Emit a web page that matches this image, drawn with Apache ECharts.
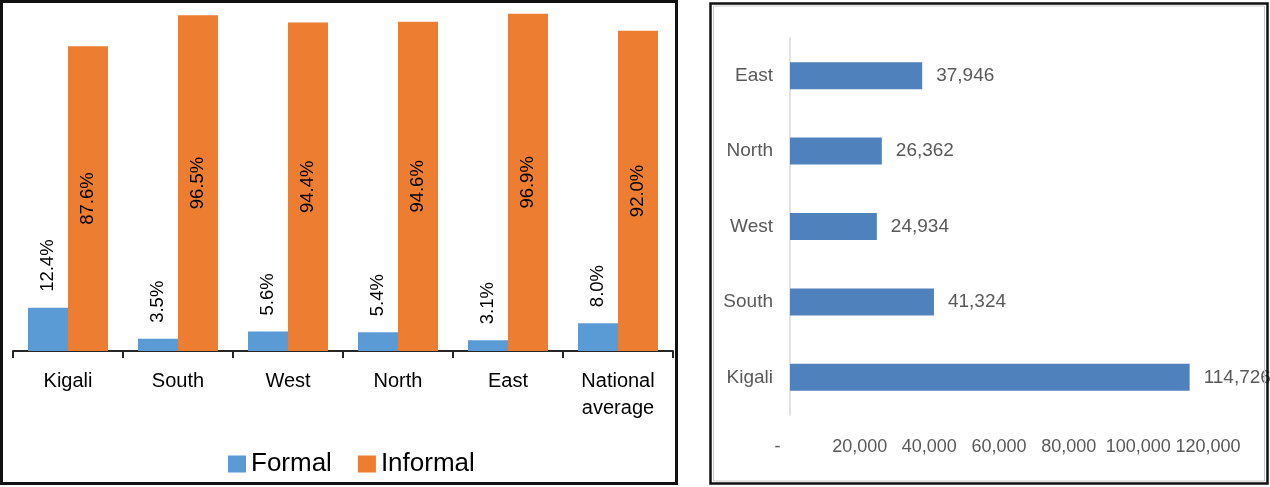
<!DOCTYPE html>
<html>
<head>
<meta charset="utf-8">
<script src="https://cdn.jsdelivr.net/npm/echarts@6/dist/echarts.min.js"></script>
<style>
html,body{margin:0;padding:0;background:#fff;}
#chart{width:1270px;height:487px;}
</style>
</head>
<body>
<div id="chart"></div>
<script>
// Left chart data
const regionCategories = ['Kigali', 'South', 'West', 'North', 'East', 'National\naverage'];
const formalShare = [12.4, 3.5, 5.6, 5.4, 3.1, 8.0];
const informalShare = [87.6, 96.5, 94.4, 94.6, 96.9, 92.0];
const seriesNames = ['Formal', 'Informal'];

// Right chart data (bottom to top)
const hhCategories = ['Kigali', 'South', 'West', 'North', 'East'];
const hhValues = [114726, 41324, 24934, 26362, 37946];
const hhAxisMax = 120000;
const hhAxisStep = 20000;

const FONT = "'Liberation Sans', Arial, sans-serif";

function fmtThousands(v) {
  return String(Math.round(v)).replace(/\B(?=(\d{3})+(?!\d))/g, ',');
}

const chart = echarts.init(document.getElementById('chart'), null, {renderer: 'canvas'});

const option = {
  backgroundColor: '#ffffff',
  animation: false,
  textStyle: {fontFamily: FONT},
  legend: {
    data: seriesNames,
    left: 223,
    top: 446,
    itemWidth: 18,
    itemHeight: 17,
    itemGap: 26,
    icon: 'rect',
    textStyle: {fontFamily: FONT, fontSize: 26, color: '#000'}
  },
  grid: [
    {left: 13, right: 597, top: 3, bottom: 136, containLabel: false},
    {left: 790, right: 62, top: 38, bottom: 72, containLabel: false}
  ],
  xAxis: [
    {
      gridIndex: 0,
      type: 'category',
      data: regionCategories,
      axisLine: {show: true, lineStyle: {color: '#262626', width: 2}},
      axisTick: {show: true, length: 7, lineStyle: {color: '#262626', width: 2}},
      axisLabel: {fontFamily: FONT, fontSize: 20, lineHeight: 27, color: '#000', margin: 17, interval: 0}
    },
    {
      gridIndex: 1,
      type: 'value',
      min: 0,
      max: hhAxisMax,
      interval: hhAxisStep,
      axisLine: {show: false},
      axisTick: {show: false},
      splitLine: {show: false},
      axisLabel: {
        fontFamily: FONT, fontSize: 18, color: '#595959', margin: 23,
        showMaxLabel: true, showMinLabel: true, hideOverlap: false,
        formatter: function (v) { return v === 0 ? '-     ' : fmtThousands(v); }
      }
    }
  ],
  yAxis: [
    {
      gridIndex: 0,
      type: 'value',
      min: 0,
      max: 100,
      show: false
    },
    {
      gridIndex: 1,
      type: 'category',
      data: hhCategories,
      axisLine: {show: true, lineStyle: {color: '#d9d9d9', width: 1.5}},
      axisTick: {show: false},
      axisLabel: {fontFamily: FONT, fontSize: 19, color: '#595959', margin: 17}
    }
  ],
  series: [
    {
      name: seriesNames[0],
      type: 'bar',
      xAxisIndex: 0,
      yAxisIndex: 0,
      data: formalShare,
      barWidth: 40,
      barGap: '0%',
      itemStyle: {color: '#5b9bd5'},
      label: {
        show: true,
        position: 'top',
        rotate: 90,
        align: 'left',
        verticalAlign: 'middle',
        distance: 16,
        fontFamily: FONT,
        fontSize: 18.5,
        color: '#000',
        formatter: function (p) { return p.value.toFixed(1) + '%'; }
      }
    },
    {
      name: seriesNames[1],
      type: 'bar',
      xAxisIndex: 0,
      yAxisIndex: 0,
      data: informalShare,
      barWidth: 40,
      barGap: '0%',
      itemStyle: {color: '#ed7d31'},
      label: {
        show: true,
        position: 'inside',
        rotate: 90,
        align: 'center',
        verticalAlign: 'middle',
        fontFamily: FONT,
        fontSize: 18.5,
        color: '#000',
        formatter: function (p) { return p.value.toFixed(1) + '%'; }
      }
    },
    {
      name: 'Households',
      type: 'bar',
      xAxisIndex: 1,
      yAxisIndex: 1,
      data: hhValues,
      barWidth: 27,
      itemStyle: {color: '#4f81bd'},
      label: {
        show: true,
        position: 'right',
        distance: 14,
        fontFamily: FONT,
        fontSize: 19,
        color: '#595959',
        formatter: function (p) { return fmtThousands(p.value); }
      }
    }
  ],
  graphic: [
    {type: 'rect', silent: true, z: 100, shape: {x: 1.5, y: 1.5, width: 675, height: 482},
     style: {fill: 'none', stroke: '#111', lineWidth: 3}},
    {type: 'rect', silent: true, z: 100, shape: {x: 713.5, y: 6, width: 551, height: 475},
     style: {fill: 'none', stroke: '#c8c8c8', lineWidth: 1}},
    {type: 'rect', silent: true, z: 101, shape: {x: 710.5, y: 3.5, width: 557, height: 480},
     style: {fill: 'none', stroke: '#111', lineWidth: 2.5}}
  ]
};

chart.setOption(option);
</script>
</body>
</html>
